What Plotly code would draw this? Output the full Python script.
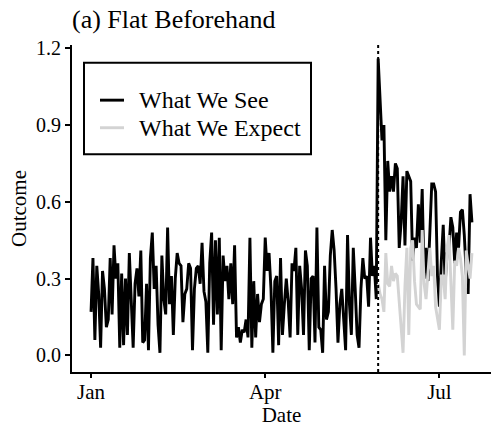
import pandas as pd
import plotly.graph_objects as go

# Daily observed outcome before the event (Jan 1 onward)
seen_pre = [
    0.17, 0.38, 0.06, 0.35, 0.24, 0.03, 0.33, 0.26, 0.11, 0.14, 0.38, 0.16, 0.43, 0.30, 0.36, 0.03,
    0.32, 0.04, 0.30, 0.08, 0.40, 0.23, 0.03, 0.28, 0.34, 0.23, 0.41, 0.05, 0.06, 0.28, 0.02, 0.38,
    0.48, 0.26, 0.35, 0.12, 0.01,
    0.39, 0.22, 0.16, 0.50, 0.20, 0.31, 0.08, 0.30, 0.40, 0.36, 0.35, 0.13, 0.24, 0.26, 0.36, 0.34,
    0.02, 0.26, 0.34, 0.35, 0.28, 0.44, 0.25, 0.21, 0.01, 0.36, 0.48, 0.12, 0.45, 0.16, 0.46, 0.02,
    0.39, 0.29, 0.35, 0.22,
    0.36, 0.20, 0.43, 0.07, 0.11, 0.05, 0.10, 0.09, 0.14, 0.07, 0.46, 0.03, 0.29, 0.07, 0.24, 0.13,
    0.20, 0.22, 0.46, 0.33, 0.40, 0.26, 0.01, 0.29, 0.31, 0.04, 0.38, 0.08, 0.20, 0.30, 0.21, 0.07,
    0.36, 0.33, 0.42, 0.08, 0.35, 0.26,
    0.08, 0.41, 0.35, 0.02, 0.30, 0.31, 0.05, 0.50, 0.11, 0.10, 0.01, 0.35, 0.14, 0.17, 0.39, 0.49,
    0.41, 0.26, 0.05, 0.20, 0.26, 0.14, 0.02, 0.47, 0.20, 0.08, 0.42, 0.26, 0.08, 0.03, 0.26, 0.38,
    0.30, 0.31, 0.19, 0.46, 0.31, 0.35, 0.22,
]
# Observed outcome after the event
seen_post = [
    1.16, 0.97, 0.84, 0.90, 0.45, 0.76, 0.64, 0.70, 0.64, 0.75, 0.73, 0.42, 0.52, 0.70, 0.43, 0.72,
    0.70, 0.68, 0.37, 0.46, 0.42, 0.59, 0.44, 0.65, 0.30, 0.42, 0.29, 0.48, 0.67, 0.67, 0.64, 0.31,
    0.19, 0.37, 0.51, 0.28, 0.40, 0.42, 0.54, 0.50, 0.36, 0.48, 0.42, 0.56, 0.57, 0.47, 0.32, 0.24,
    0.63, 0.52,
]
# Expected (counterfactual) outcome after the event
expected_post = [
    0.28, 0.24, 0.22, 0.17, 0.40, 0.28, 0.27, 0.35, 0.29, 0.32, 0.31, 0.22, 0.13, 0.01, 0.27, 0.42,
    0.08, 0.42, 0.45, 0.29, 0.20, 0.19, 0.18, 0.49, 0.28, 0.22, 0.32, 0.42, 0.31, 0.35, 0.19, 0.14,
    0.10, 0.31, 0.31, 0.22, 0.42, 0.47, 0.29, 0.10, 0.37, 0.35, 0.42, 0.38, 0.31, 0.00, 0.41, 0.36,
    0.30, 0.40,
]
series_names = ["What We See", "What We Expect"]
series_colors = ["black", "#d3d3d3"]
start_date = "2020-01-01"
tick_dates = ["2020-01-01", "2020-04-01", "2020-07-01"]
tick_labels = ["Jan", "Apr", "Jul"]
y_ticks = [0.0, 0.3, 0.6, 0.9, 1.2]
y_tick_labels = ["0.0", "0.3", "0.6", "0.9", "1.2"]

seen = seen_pre + seen_post
dates = pd.date_range(start_date, periods=len(seen), freq="D")
post_dates = dates[len(seen_pre):]
event_date = post_dates[0]

FONT = "Liberation Serif, Times New Roman, serif"
W, H = 493, 427
ML, MR, MT, MB = 72, 2, 45, 50
PW, PH = W - ML - MR, H - MT - MB


def px(x):  # pixel x -> paper x
    return (x - ML) / PW


def py(y):  # pixel y -> paper y
    return (H - MB - y) / PH


fig = go.Figure()
fig.add_trace(go.Scatter(x=dates, y=seen, mode="lines", name=series_names[0],
                         line=dict(color=series_colors[0], width=2.9), showlegend=False))
fig.add_trace(go.Scatter(x=post_dates, y=expected_post, mode="lines", name=series_names[1],
                         line=dict(color=series_colors[1], width=2.9), showlegend=False))

fig.add_shape(type="line", xref="x", yref="paper", x0=event_date, x1=event_date, y0=0, y1=1,
              line=dict(color="black", width=2, dash="dot"))

# legend box
fig.add_shape(type="rect", xref="paper", yref="paper", x0=px(84), x1=px(311), y0=py(63), y1=py(156),
              line=dict(color="black", width=2), fillcolor="white", layer="above")
for i, (nm, col) in enumerate(zip(series_names, series_colors)):
    yy = 101 + 28 * i
    fig.add_shape(type="line", xref="paper", yref="paper", x0=px(100), x1=px(124), y0=py(yy), y1=py(yy),
                  line=dict(color=col, width=2.9), layer="above")
    fig.add_annotation(xref="paper", yref="paper", x=px(137), y=py(yy), text=nm, showarrow=False,
                       xanchor="left", yanchor="middle",
                       font=dict(size=24, family=FONT, color="black"))

span_lo = dates[0] - pd.Timedelta(days=9.95)
span_hi = dates[-1] + pd.Timedelta(days=9.95)

fig.update_layout(
    width=W, height=H,
    margin=dict(l=ML, r=MR, t=MT, b=MB),
    paper_bgcolor="white", plot_bgcolor="white",
    font=dict(family=FONT, color="black", size=15),
    title=dict(text="(a) Flat Beforehand", x=72 / W, xanchor="left", xref="container",
               y=1 - 19 / H, yanchor="middle", yref="container",
               font=dict(size=26, family=FONT, color="black")),
    showlegend=False,
    xaxis=dict(range=[span_lo, span_hi], tickvals=tick_dates, ticktext=tick_labels,
               showgrid=False, zeroline=False, showline=True, linecolor="black", linewidth=2,
               ticks="outside", ticklen=4, tickwidth=1.5, tickcolor="black", ticklabelstandoff=-4,
               tickfont=dict(size=21, family=FONT, color="black"),
               title=dict(text="Date", font=dict(size=21, family=FONT, color="black"), standoff=6)),
    yaxis=dict(range=[-0.065, 1.213], tickvals=y_ticks, ticktext=y_tick_labels,
               showgrid=False, zeroline=False, showline=True, linecolor="black", linewidth=2,
               ticks="outside", ticklen=5, tickwidth=1.5, tickcolor="black",
               tickfont=dict(size=20, family=FONT, color="black"),
               title=dict(text="Outcome", font=dict(size=21, family=FONT, color="black"), standoff=4)),
)

fig.write_html("out.html")
